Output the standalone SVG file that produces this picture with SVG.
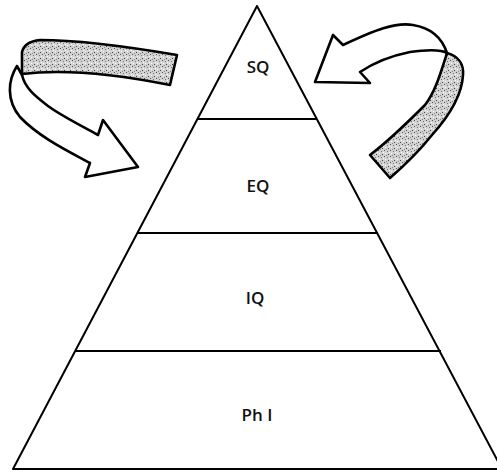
<svg xmlns="http://www.w3.org/2000/svg" width="497" height="473" viewBox="0 0 497 473">
<style>
.edge{fill:none;stroke:#000;stroke-width:2;stroke-linejoin:round}
.lbl{font-family:"Open Sans","Liberation Sans",sans-serif;font-weight:600;font-size:17px;fill:#111;text-anchor:middle}
.ribbon{fill:#fff;stroke:#000;stroke-width:2.6;stroke-linejoin:round}
.band{fill:url(#speckle);stroke:#000;stroke-width:2.6;stroke-linejoin:round}
</style>
<defs>
<pattern id="speckle" width="6" height="6" patternUnits="userSpaceOnUse">
<rect width="6" height="6" fill="#d2d2d2"/>
<rect x="0" y="0" width="1" height="1" fill="#555"/>
<rect x="3" y="1" width="1" height="1" fill="#777"/>
<rect x="1" y="3" width="1" height="1" fill="#fff"/>
<rect x="4" y="4" width="1" height="1" fill="#444"/>
<rect x="5" y="2" width="1" height="1" fill="#fff"/>
<rect x="2" y="5" width="1" height="1" fill="#888"/>
</pattern>
</defs>
<rect width="497" height="473" fill="#fff"/>
<g id="pyramid">
<polygon class="edge" points="257,6 13,469 502,469"/>
</g>
<g id="connectors">
<line class="edge" x1="197" y1="119" x2="317" y2="119"/>
<line class="edge" x1="137" y1="233" x2="378" y2="233"/>
<line class="edge" x1="75" y1="351" x2="441" y2="351"/>
</g>
<g id="sq"><text class="lbl" x="258" y="73">SQ</text></g>
<g id="eq"><text class="lbl" x="258" y="192">EQ</text></g>
<g id="iq"><text class="lbl" x="255" y="304">IQ</text></g>
<g id="ph"><text class="lbl" x="257" y="421">Ph I</text></g>
<g id="arrow-left">
<path class="ribbon" d="M17,66 C8,80 6,100 20,117 C40,138 70,152 90,163 L85,177 L138,167 L103,120 L98,135 C80,125 60,115 48,106 C35,96 25,88 22,75 Z"/>
<path class="band" d="M22,52 C24,44 30,41 40,40 C80,40 130,47 177,55 L170,85 C125,76 70,68 22,74 Z"/>
</g>
<g id="arrow-right">
<path class="ribbon" d="M447,53 C442,38 432,28 413,25 C395,22 375,30 343,45 L333,35 L315,82 L370,83 L360,72 C375,62 395,55 410,52 C425,50 440,49 447,53 Z"/>
<path class="band" d="M447,53 C458,56 464,64 463,75 C462,95 450,115 432,135 C420,150 405,165 390,178 L370,155 C390,140 410,120 425,105 C435,92 440,75 447,53 Z"/>
</g>
</svg>
